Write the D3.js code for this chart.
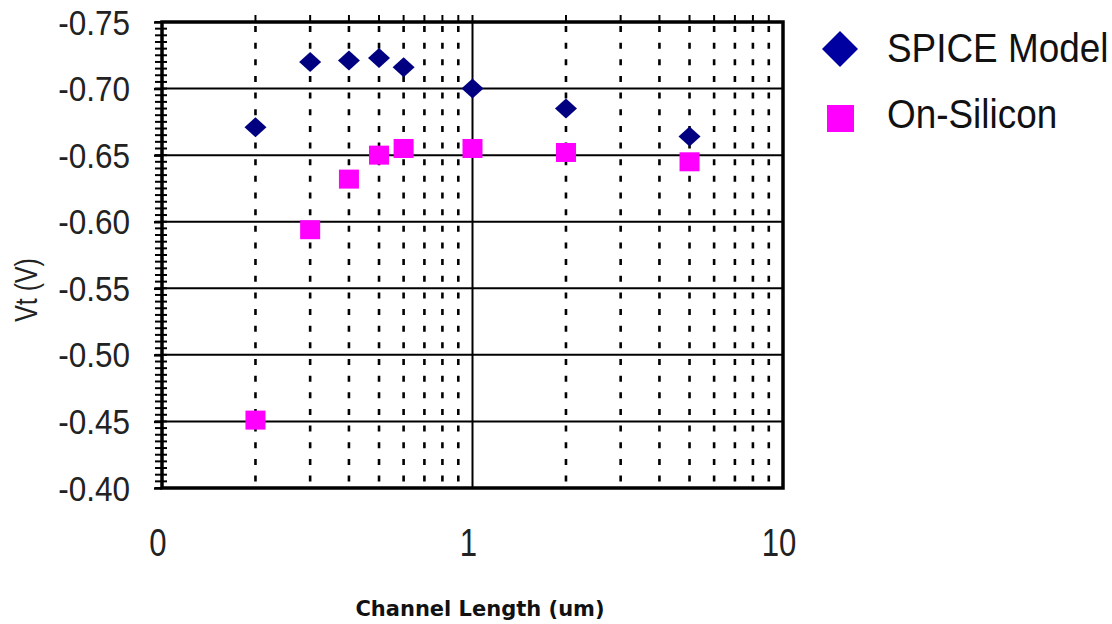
<!DOCTYPE html>
<html>
<head>
<meta charset="utf-8">
<script src="https://cdn.jsdelivr.net/npm/d3@7"></script>
<style>
  body { margin: 0; background: #fff; }
  svg { display: block; }
</style>
</head>
<body>
<script>
// data
var lengths = [0.2, 0.3, 0.4, 0.5, 0.6, 1, 2, 5];
var spiceVt = [-0.671, -0.720, -0.721, -0.723, -0.716, -0.700, -0.685, -0.664];
var siliconVt = [-0.451, -0.594, -0.632, -0.650, -0.655, -0.655, -0.652, -0.645];
var seriesNames = ["SPICE Model", "On-Silicon"];
var yTicks = [-0.40, -0.45, -0.50, -0.55, -0.60, -0.65, -0.70, -0.75];
var xTickValues = [0.1, 1, 10];
var xTickLabels = ["0", "1", "10"];

var W = 1112, H = 624;
var margin = { top: 22, left: 162 },
    width = 621,
    height = 466;
var font = "Liberation Sans, Arial, sans-serif";

var x = d3.scaleLog().domain([0.1, 10]).range([0, width]);
var y = d3.scaleLinear().domain([-0.40, -0.75]).range([height, 0]);

var svg = d3.select("body").append("svg")
    .attr("width", W)
    .attr("height", H);

var g = svg.append("g")
    .attr("transform", "translate(" + margin.left + "," + margin.top + ")");

// vertical grid (dotted minor, solid at 1)
var minorX = [];
[0.1, 1].forEach(function (dec) {
    for (var k = 2; k <= 9; k++) minorX.push(dec * k);
});
g.selectAll(".vgrid")
    .data(minorX)
    .enter().append("line")
    .attr("x1", d => x(d)).attr("x2", d => x(d))
    .attr("y1", 0).attr("y2", height)
    .attr("stroke", "#000")
    .attr("stroke-width", 2.6)
    .attr("stroke-dasharray", "6,10.65")
    .attr("stroke-dashoffset", -4);

g.append("line")
    .attr("x1", x(1)).attr("x2", x(1))
    .attr("y1", 0).attr("y2", height)
    .attr("stroke", "#000").attr("stroke-width", 2);

// horizontal grid
g.selectAll(".hgrid")
    .data(yTicks.slice(1, -1))
    .enter().append("line")
    .attr("x1", 0).attr("x2", width)
    .attr("y1", d => y(d)).attr("y2", d => y(d))
    .attr("stroke", "#000").attr("stroke-width", 2);

// top tick marks at grid positions
g.selectAll(".ttick")
    .data(minorX.concat([1]))
    .enter().append("line")
    .attr("x1", d => x(d)).attr("x2", d => x(d))
    .attr("y1", -7).attr("y2", 0)
    .attr("stroke", "#000").attr("stroke-width", 2);

// y minor ticks
var minorY = d3.range(0, 71).map(i => -0.40 - i * 0.005);
g.selectAll(".ymin")
    .data(minorY)
    .enter().append("line")
    .attr("x1", -7).attr("x2", 5)
    .attr("y1", d => y(d)).attr("y2", d => y(d))
    .attr("stroke", "#000").attr("stroke-width", 2);

// major y ticks
var yAxis = g.append("g")
    .call(d3.axisLeft(y).tickValues(yTicks).tickSize(8).tickFormat(""));
yAxis.select(".domain").remove();
yAxis.selectAll("line").attr("stroke-width", 2.5);

// frame
g.append("rect")
    .attr("width", width).attr("height", height)
    .attr("fill", "none")
    .attr("stroke", "#000").attr("stroke-width", 3.5);

// y tick labels (condensed look)
g.selectAll(".ylab")
    .data(yTicks)
    .enter().append("text")
    .attr("transform", d => "translate(-32," + (y(d) + 12.5) + ") scale(0.9,1)")
    .attr("text-anchor", "end")
    .attr("font-family", font)
    .attr("font-size", 35)
    .attr("fill", "#222")
    .text(d => d.toFixed(2));

// x tick labels
g.selectAll(".xlab")
    .data(xTickValues)
    .enter().append("text")
    .attr("transform", d => "translate(" + (x(d) - 4) + "," + (height + 68) + ") scale(0.82,1)")
    .attr("text-anchor", "middle")
    .attr("font-family", font)
    .attr("font-size", 38)
    .attr("fill", "#222")
    .text((d, i) => xTickLabels[i]);

// axis titles
svg.append("text")
    .attr("transform", "translate(37,290) rotate(-90) scale(0.8,1)")
    .attr("text-anchor", "middle")
    .attr("font-family", font)
    .attr("font-size", 31)
    .attr("fill", "#222")
    .text("Vt (V)");

svg.append("text")
    .attr("x", 480).attr("y", 616)
    .attr("text-anchor", "middle")
    .attr("font-family", "DejaVu Sans, Verdana, sans-serif")
    .attr("font-weight", "bold")
    .attr("font-size", 21)
    .attr("fill", "#111")
    .text("Channel Length (um)");

// points
g.selectAll(".spice")
    .data(lengths)
    .enter().append("path")
    .attr("d", "M0,-10L11,0L0,10L-11,0Z")
    .attr("transform", (d, i) => "translate(" + x(d) + "," + y(spiceVt[i]) + ")")
    .attr("fill", "#000080");

g.selectAll(".silicon")
    .data(lengths)
    .enter().append("rect")
    .attr("x", d => x(d) - 10)
    .attr("y", (d, i) => y(siliconVt[i]) - 9.5)
    .attr("width", 20).attr("height", 19)
    .attr("fill", "#ff00ff");

// legend
var legend = svg.append("g");
legend.append("path")
    .attr("d", "M0,-18L18,0L0,18L-18,0Z")
    .attr("transform", "translate(840,49)")
    .attr("fill", "#0000a0");
legend.append("rect")
    .attr("x", 827).attr("y", 105)
    .attr("width", 27).attr("height", 27)
    .attr("fill", "#ff00ff");
legend.selectAll(".ltext")
    .data(seriesNames)
    .enter().append("text")
    .attr("transform", (d, i) => "translate(887," + (62 + i * 66) + ") scale(0.9,1)")
    .attr("font-family", font)
    .attr("font-size", 41)
    .attr("fill", "#111")
    .text(d => d);
</script>
</body>
</html>
